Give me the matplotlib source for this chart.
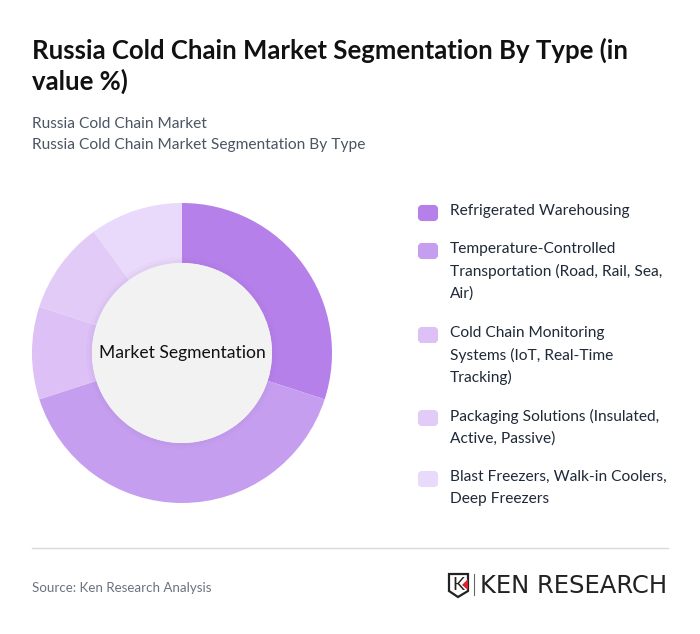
import matplotlib
matplotlib.use("Agg")
import matplotlib.pyplot as plt
from matplotlib.patches import Circle, FancyBboxPatch, Polygon

plt.rcParams['font.family'] = ['Lato', 'Open Sans', 'DejaVu Sans']

title_lines = ["Russia Cold Chain Market Segmentation By Type (in", "value %)"]
subtitle_lines = ["Russia Cold Chain Market", "Russia Cold Chain Market Segmentation By Type"]
segments = [
    "Refrigerated Warehousing",
    "Temperature-Controlled\nTransportation (Road, Rail, Sea,\nAir)",
    "Cold Chain Monitoring\nSystems (IoT, Real-Time\nTracking)",
    "Packaging Solutions (Insulated,\nActive, Passive)",
    "Blast Freezers, Walk-in Coolers,\nDeep Freezers",
]
shares = [30, 40, 10, 10, 10]
colors = ["#b580ea", "#c69ef0", "#dcc0f6", "#e2ccf7", "#e9d9fa"]
legend_y = [211, 249, 333, 416, 477]

fig = plt.figure(figsize=(7, 6.34), dpi=100)

# overlay in pixel coordinates for the text, legend and rule
bg = fig.add_axes([0, 0, 1, 1])
bg.set_xlim(0, 700)
bg.set_ylim(634, 0)
bg.axis("off")

bg.text(32, 50, title_lines[0], fontsize=18.55, fontweight="bold", color="#111111", va="center")
bg.text(32, 81, title_lines[1], fontsize=18.55, fontweight="bold", color="#111111", va="center")
bg.text(32, 124, subtitle_lines[0], fontsize=11.15, color="#4b5563", va="center")
bg.text(32, 145, subtitle_lines[1], fontsize=11.15, color="#4b5563", va="center")

# donut
ax = fig.add_axes([32 / 700, (634 - 503) / 634, 300 / 700, 300 / 634])
ax.pie(shares, colors=colors, startangle=90, counterclock=False, radius=1,
       wedgeprops=dict(width=0.4, linewidth=0))
for r, a in [(0.64, 0.03), (0.62, 0.04)]:
    ax.add_patch(Circle((0, 0), r, color="#8a60b0", alpha=a, linewidth=0))
ax.add_patch(Circle((0, 0), 0.6, color="#f2f2f2", linewidth=0))
ax.text(0, 0, "Market Segmentation", fontsize=12.6, color="#111111", ha="center", va="center")
ax.set_xlim(-1, 1)
ax.set_ylim(-1, 1)

# legend
for label, color, y in zip(segments, colors, legend_y):
    bg.add_patch(FancyBboxPatch((419, y - 5), 18, 14, boxstyle="round,pad=0,rounding_size=3",
                                facecolor=color, edgecolor=color, linewidth=1.5))
    for i, line in enumerate(label.split("\n")):
        bg.text(450, y + i * 22.2, line, fontsize=11.15, color="#1f2937", va="center")

bg.plot([32, 668], [548, 548], color="#d9d9d9", linewidth=1)
bg.text(32, 588, "Source: Ken Research Analysis", fontsize=9.6, color="#6b7280", va="center")

# logo
bg.add_patch(Polygon([(449, 574), (468, 574), (468, 591), (458, 597), (449, 591)], closed=True,
                     facecolor="white", edgecolor="#222222", linewidth=1.6))
bg.text(458, 585, "K", fontsize=13, color="#222222", ha="center", va="center")
bg.add_patch(Polygon([(468, 579), (468, 590), (462, 585)], closed=True, facecolor="#d8232a", linewidth=0))
bg.plot([474, 474], [574, 595], color="#666666", linewidth=0.8)
bg.text(480, 586, "KEN RESEARCH", fontsize=17.5, color="#222222", va="center",
        family=["DejaVu Sans"])

fig.savefig("out.png", dpi=100)
